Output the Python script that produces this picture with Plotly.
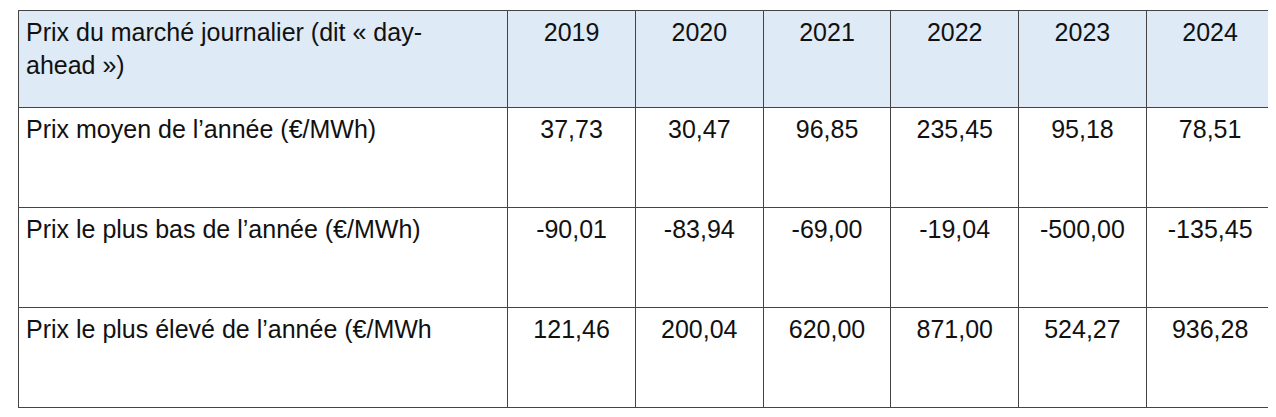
import plotly.graph_objects as go

header_label = "Prix du marché journalier (dit « day-<br>ahead »)"
years = ["2019", "2020", "2021", "2022", "2023", "2024"]
row_labels = ["Prix moyen de l’année (€/MWh)",
              "Prix le plus bas de l’année (€/MWh)",
              "Prix le plus élevé de l’année (€/MWh"]
prix_moyen = ["37,73", "30,47", "96,85", "235,45", "95,18", "78,51"]
prix_bas = ["-90,01", "-83,94", "-69,00", "-19,04", "-500,00", "-135,45"]
prix_haut = ["121,46", "200,04", "620,00", "871,00", "524,27", "936,28"]

rows = [prix_moyen, prix_bas, prix_haut]
columns = [row_labels] + [[r[i] for r in rows] for i in range(len(years))]
columns = [["<br>" + v for v in col] for col in columns]
header_vals = [header_label] + ["<br>" + y for y in years]

fig = go.Figure(go.Table(
    columnwidth=[487] + [127] * 6,
    header=dict(values=header_vals,
                fill_color="#DEEAF6", line=dict(color="#444", width=1),
                align=["left"] + ["center"] * 6,
                font=dict(family="Liberation Sans", size=25, color="#111"),
                height=97),
    cells=dict(values=columns, fill_color="white",
               line=dict(color="#444", width=1),
               align=["left"] + ["center"] * 6,
               font=dict(family="Liberation Sans", size=25, color="#111"),
               height=100),
))
fig.update_layout(width=1276, height=417, margin=dict(l=10, r=10, t=2, b=0),
                  paper_bgcolor="white")
fig.write_html("out.html")
